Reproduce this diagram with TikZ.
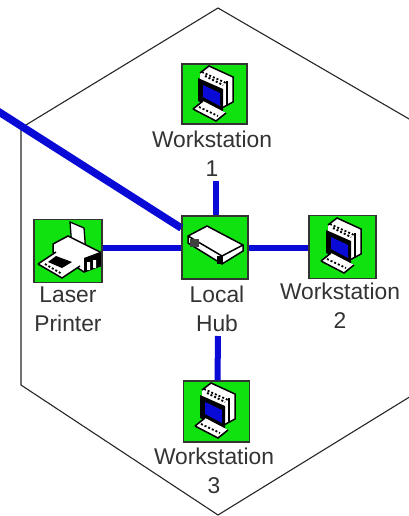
\documentclass[tikz,border=0pt]{standalone}
\usepackage{fontspec}
\setmainfont{Liberation Sans}
\definecolor{boxgreen}{RGB}{16,226,16}
\definecolor{wireblue}{RGB}{10,10,215}
\tikzset{
 iconbox/.style={draw=black!80,line width=1.3pt,fill=boxgreen,inner sep=0pt},
 lab/.style={font=\fontsize{22.8}{29}\selectfont,text=black!80,align=center,inner sep=0pt},
 wire/.style={draw=wireblue,line width=6pt},
 trunk/.style={draw=wireblue,line width=7.5pt},
 hexline/.style={draw=black!85,line width=1.1pt},
 ink/.style={draw=black,line width=1.5pt},
 dots/.style={draw=black,line width=1.8pt,dash pattern=on 2pt off 2pt}
}
\newcommand{\pcicon}[1]{%
 \begin{scope}[shift={(#1)},x=1pt,y=-1pt]
  \fill[white] (-14,-19)--(-5,-26)--(19,-15)--(19,10)--(6,17)--(-14,6)--cycle;
  \draw[ink] (-14,-19)--(-5,-26)--(19,-15)--(19,10)--(6,17);
  \draw[dots] (-12,-20)--(12,-9) (-9,-16)--(9,-7);
  \fill[black] (-16,-14)--(9,-3)--(9,20)--(-16,9)--cycle;
  \fill[wireblue] (-11,-7)--(6,1)--(6,14)--(-11,5)--cycle;
  \draw[ink] (13,-11)--(13,14);
  \fill[white] (-21,17)--(-11,9)--(12,21)--(2,29)--cycle;
  \draw[ink] (-21,17)--(-11,9) (-21,17)--(2,29)--(12,21);
  \draw[dots] (-15,15)--(4,24);
 \end{scope}}
\begin{document}
\begin{tikzpicture}[x=1pt,y=-1pt]
\useasboundingbox (0,0) rectangle (409,516);
\clip (0,0) rectangle (409,516);
\fill[white] (0,0) rectangle (409,516);
\coordinate (h1) at (218,8);
\coordinate (h2) at (416,123);
\coordinate (h3) at (416,393);
\coordinate (h4) at (218,515);
\coordinate (h5) at (21,385);
\coordinate (h6) at (21,128);
\draw[hexline] (h1)--(h2)--(h3)--(h4)--(h5)--(h6)--cycle;
\coordinate (ext) at (-4,110);
\node[iconbox,minimum width=66pt,minimum height=63pt] (hub) at (215,247.5) {};
\node[iconbox,minimum width=65pt,minimum height=60pt] (ws1) at (214.5,94) {};
\node[iconbox,minimum width=67pt,minimum height=63pt] (ws2) at (342.5,247) {};
\node[iconbox,minimum width=66pt,minimum height=61pt] (ws3) at (216.5,411.5) {};
\node[iconbox,minimum width=68pt,minimum height=63pt] (prn) at (68,251) {};
\node[lab] (l1) at (212,154) {Workstation\\1};
\node[lab] (l2) at (340,306) {Workstation\\2};
\node[lab] (l3) at (214,471) {Workstation\\3};
\node[lab] (lp) at (68,309) {Laser\\Printer};
\node[lab] (lh) at (217,309) {Local\\Hub};
\draw[trunk] (ext)--(hub.150);
\draw[wire] (hub.north) ++(1,0) -- ++(0,-34) coordinate (w1e);
\draw[wire] (hub.east) -- (hub.east -| ws2.west);
\draw[wire] (hub.west) -- (hub.west -| prn.east);
\draw[wire] (ws3.north) ++(1,0) -- (218,336) coordinate (w3e);
\draw[draw=black!80,line width=1.3pt] (hub.north west) rectangle (hub.south east);
\pcicon{214,92}
\pcicon{342,244}
\pcicon{216,409}
% hub icon
\fill[white] (188,236)--(207,226)--(243,245)--(243,251)--(222,264)--(188,243)--cycle;
\draw[ink] (188,236)--(207,226)--(243,245)--(243,251)--(222,264)--(188,243)--cycle;
\draw[ink] (188,236)--(222,256)--(243,245) (222,256)--(222,264);
\fill[black!75] (190,239) rectangle (199,247);
\fill[black] (217,256) rectangle (223,264);
% printer icon
\fill[white,draw=black,line width=1.3pt] (70,222)--(84,228)--(86,254)--(72,248)--cycle;
\fill[white] (53,244)--(68,236)--(100,252)--(100,266)--(84,272)--(53,252)--cycle;
\draw[ink] (53,244)--(68,236)--(100,252)--(100,266)--(84,272)--(53,252)--cycle;
\fill[black] (84,258) -- (100,252) -- (100,266) -- (84,272)--cycle;
\fill[white] (38,264)--(56,252)--(80,266)--(62,278)--cycle;
\draw[ink] (38,264)--(56,252) (38,264)--(62,278)--(80,266);
\fill[black] (56,256)--(72,262)--(62,268)--(48,262)--cycle;
\draw[dots] (45,264)--(62,274);
\fill[white] (87,262) rectangle (90,270) (93,260) rectangle (96,268);
\end{tikzpicture}
\end{document}
